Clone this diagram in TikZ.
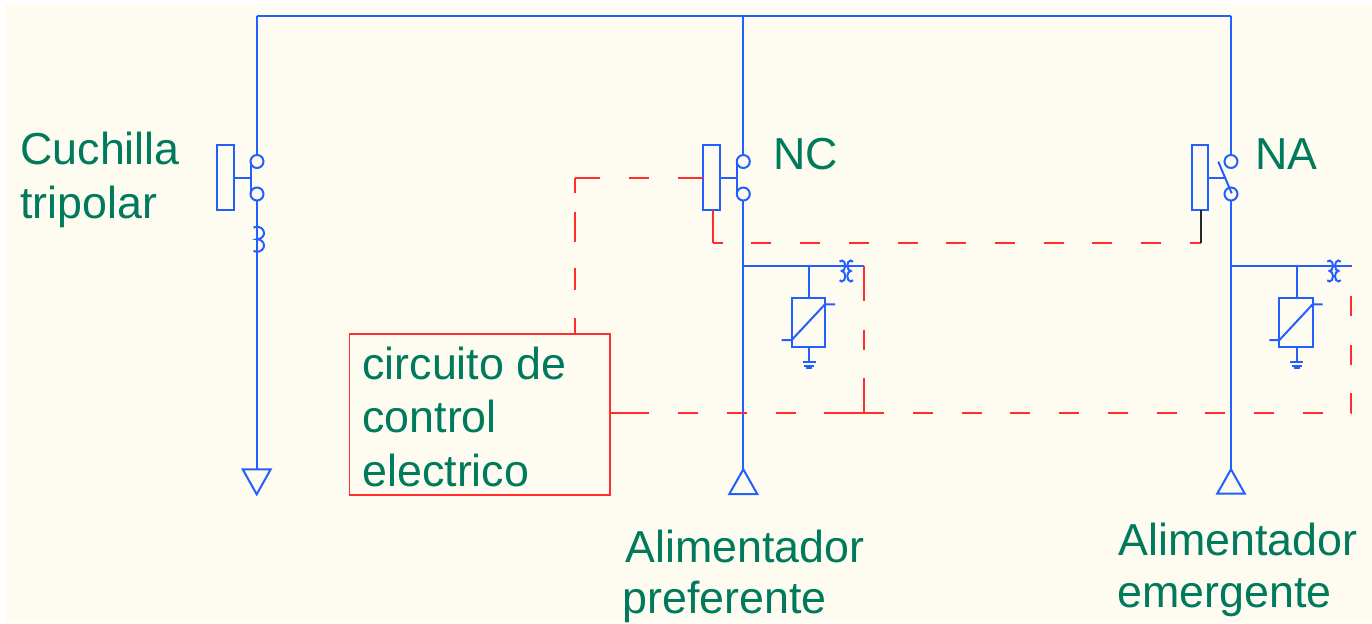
\documentclass[tikz,border=0pt]{standalone}
\usepackage{fontspec}
\setmainfont{Liberation Sans}
\usetikzlibrary{calc}
\definecolor{cBg}{RGB}{254,251,240}
\definecolor{cWire}{RGB}{35,95,255}
\definecolor{cCtrl}{RGB}{255,45,45}
\definecolor{cTxt}{RGB}{0,122,92}
\definecolor{cDark}{RGB}{40,40,40}
% AutoCAD-like dashed segment between two named coordinates
\newcommand\cadseg[3][]{%
  \pgfpointdiff{\pgfpointanchor{#2}{center}}{\pgfpointanchor{#3}{center}}%
  \pgfgetlastxy\cadx\cady
  \pgfmathsetmacro\cadL{veclen(\cadx,\cady)}%
  \pgfmathsetmacro\cadN{floor((\cadL-10)/24.35)}%
  \pgfmathsetmacro\cadR{(\cadL-10-\cadN*24.35)/2}%
  \pgfmathsetmacro\cadPh{24.35-\cadR}%
  \draw[ctrlline,#1,dash pattern=on 10pt off 14.35pt,dash phase=\cadPh pt] (#2) -- (#3);
  \draw[ctrlline,#1] (#2) -- ($(#2)!\cadR pt!(#3)$) (#3) -- ($(#3)!\cadR pt!(#2)$);
}
\begin{document}
\begin{tikzpicture}[x=0.5pt,y=-0.5pt,
  wireline/.style={draw=cWire,line width=1pt},
  ctrlline/.style={draw=cCtrl,line width=1pt},
  lbl/.style={text=cTxt,inner sep=0pt,anchor=base west,font=\fontsize{22.4pt}{26pt}\selectfont},
  ctrlbox/.style={draw=cCtrl,line width=0.8pt,inner sep=0pt,anchor=north west,minimum width=130.4pt,minimum height=80.5pt},
  closedsw/.pic={
    \draw[wireline] (0,161.5) circle[radius=6.5] (0,194) circle[radius=6.5];
    \draw[wireline] (-6.5,161.5) -- (-6.5,194);
    \draw[wireline] (-23,178.3) -- (-6.5,178.3);
    \draw[wireline] (-40,145) rectangle (-23,210.3);
  },
  opensw/.pic={
    \draw[wireline] (0,161.5) circle[radius=6.5] (0,194) circle[radius=6.5];
    \draw[wireline] (-12.7,161.7) -- (0.7,193.3);
    \draw[wireline] (-23.3,178.3) -- (-5.6,178.3);
    \draw[wireline] (-38.7,145) rectangle (-23.3,210.3);
  },
  arrester/.pic={
    \draw[wireline] (0,0) -- (121,0);
    \draw[wireline] (98.5,0) ++(-130:3.5 and 5.25) arc[start angle=-130,end angle=90,x radius=3.5,y radius=5.25]
                                 arc[start angle=-90,end angle=130,x radius=3.5,y radius=5.25];
    \draw[wireline] (107.5,0) ++(-50:3.5 and 5.25) arc[start angle=-50,end angle=-270,x radius=3.5,y radius=5.25]
                                  arc[start angle=-90,end angle=-310,x radius=3.5,y radius=5.25];
    \draw[wireline] (65.7,0) -- (65.7,32);
    \draw[wireline] (48.4,32) rectangle (81.7,81);
    \draw[wireline] (38.4,74.3) -- (48.4,74.3) -- (81.7,38.6) -- (91.7,38.6);
    \draw[wireline] (65.7,81) -- (65.7,96.6);
    \draw[wireline] (59.2,96.6) -- (72.2,96.6) (60.9,100) -- (70.5,100) (62.5,102.6) -- (68.9,102.6);
  }]
\useasboundingbox (0,0) rectangle (1372,623);
\fill[cBg] (5,4) rectangle (1372,623);

% ---- main power wiring ----
\coordinate (busL) at (257,16);
\coordinate (busM) at (743.3,16);
\coordinate (busR) at (1231,16);
\coordinate (swLt) at (257,155);
\coordinate (swLb) at (257,200.5);
\coordinate (swMt) at (743.3,155);
\coordinate (swMb) at (743.3,200.5);
\coordinate (swRt) at (1231,155);
\coordinate (swRb) at (1231,200.5);
\coordinate (triL) at (257,469.3);
\coordinate (triM) at (743.3,469.3);
\coordinate (triR) at (1231,469.3);

\draw[wireline] (busL) -- (busR);
\draw[wireline] (busL) -- (swLt);
\draw[wireline] (busM) -- (swMt);
\draw[wireline] (busR) -- (swRt);
\draw[wireline] (swLb) -- (triL);
\draw[wireline] (swMb) -- (triM);
\draw[wireline] (swRb) -- (triR);

\pic at (257,0) {closedsw};
\pic at (743.3,0) {closedsw};
\pic at (1231,0) {opensw};

% coil on the left line
\draw[wireline] (253.5,227.6) arc[start angle=-120,end angle=90,x radius=7,y radius=6.25]
                              arc[start angle=-90,end angle=120,x radius=7,y radius=6.25];

% terminal triangles
\draw[wireline] (triL) -- (242.7,469.3) -- (256.7,494.3) -- (270.7,469.3) -- cycle;
\draw[wireline] (triM) -- (729.3,494) -- (757.3,494) -- cycle;
\draw[wireline] (triR) -- (1217.3,493.5) -- (1244.7,493.5) -- cycle;

% arresters and CTs
\pic at (743.3,265.7) {arrester};
\pic at (1231,265.7) {arrester};

% ---- control circuit ----
\node[ctrlbox] (cc) at (348.5,333.3) {};
\node[lbl] (t5) at (362,379) {circuito de};
\node[lbl] (t6) at (362,432) {control};
\node[lbl] (t7) at (362,486) {electrico};

\coordinate (a1) at (575,333.3);
\coordinate (a2) at (575,178.3);
\coordinate (a3) at (703.3,178.3);
\draw[ctrlline,dash pattern=on 7.5pt off 14.15pt on 10.85pt off 13.3pt on 15pt off 9.2pt on 8pt off 20pt] (a1) -- (a2);
\cadseg{a2}{a3}

\coordinate (b1) at (712.7,210.3);
\coordinate (b2) at (712.7,243.3);
\coordinate (b3) at (1200.7,243.3);
\coordinate (b4) at (1200.7,210.3);
\draw[ctrlline] (b1) -- (b2);
\draw[ctrlline,dash pattern=on 10pt off 14.35pt,dash phase=5pt] (b2) -- (b3);
\draw[draw=cDark,line width=1pt] (b3) -- (b4);

\coordinate (c1) at (864.3,265.7);
\coordinate (c2) at (864.3,413.3);
\coordinate (c3) at (609.3,413.3);
\coordinate (c4) at (1351.3,413.3);
\coordinate (c5) at (1351.3,265.7);
\cadseg{c1}{c2}
\cadseg{c3}{c2}
\draw[ctrlline,dash pattern=on 10pt off 14.35pt,dash phase=0pt] (c2) -- (c4) -- (c5);

% ---- labels ----
\node[lbl] (t1) at (20,164) {Cuchilla};
\node[lbl] (t2) at (20,218) {tripolar};
\node[lbl] (t3) at (773,169) {NC};
\node[lbl] (t4) at (1255,169) {NA};
\node[lbl] (t8) at (625,562) {Alimentador};
\node[lbl] (t9) at (622,613) {preferente};
\node[lbl] (t10) at (1118,555) {Alimentador};
\node[lbl] (t11) at (1117,607) {emergente};
\end{tikzpicture}
\end{document}
